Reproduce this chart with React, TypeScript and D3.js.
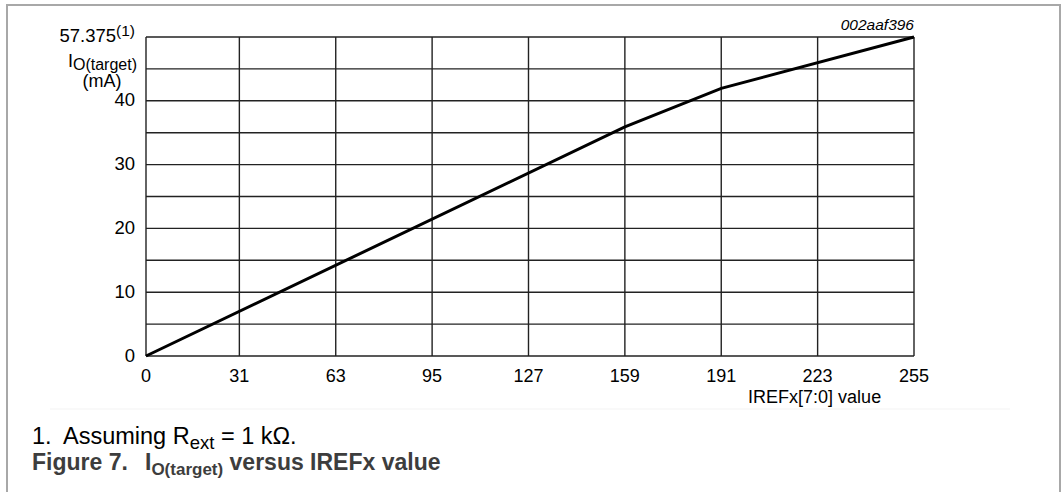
import * as d3 from "d3";

// IREFx register value (x) and target output current in mA (y)
const irefValues = [0, 159, 191, 255];
const currentMa = [0, 35.9, 43.4, 57.375];

const xTicks = [0, 31, 63, 95, 127, 159, 191, 223, 255];
const yTicks = [0, 10, 20, 30, 40, 57.375];

const FONT = "'Liberation Sans', Arial, Helvetica, sans-serif";

export default function App() {
  const width = 1061;
  const height = 492;
  const margin = { top: 37, right: 147, bottom: 136, left: 146 };
  const innerW = width - margin.left - margin.right;
  const innerH = height - margin.top - margin.bottom;

  const x = d3.scaleLinear().domain([0, 255]).range([0, innerW]);
  // the datasheet axis is broken above 40 mA: 57.375 sits two grid rows above 40
  const y = d3
    .scaleLinear()
    .domain([0, 40, 57.375])
    .range([innerH, innerH * 0.2, 0]);

  // minor grid rows half way between labelled ones
  const minorRows = d3.pairs(yTicks).map(([a, b]) => (y(a) + y(b)) / 2);
  const rows = [...yTicks.map((t) => y(t)), ...minorRows];

  const line = d3
    .line<number>()
    .x((d) => x(d))
    .y((_, i) => y(currentMa[i]));

  return (
    <svg
      width={width}
      height={height}
      style={{ position: "absolute", left: 0, top: 0, background: "#fff" }}
      fontFamily={FONT}
    >
      {/* frame */}
      <path d="M7,492V5H1060V492" fill="none" stroke="#a8a8a8" strokeWidth={2} />
      <line x1={50} x2={1010} y1={409} y2={409} stroke="#f3f3f3" strokeWidth={1} />

      <g transform={`translate(${margin.left},${margin.top})`}>
        {rows.map((r, i) => (
          <line key={"h" + i} x1={0} x2={innerW} y1={r} y2={r} stroke="#222" strokeWidth={1.4} />
        ))}
        {xTicks.map((t) => (
          <line key={"v" + t} x1={x(t)} x2={x(t)} y1={0} y2={innerH} stroke="#222" strokeWidth={1.4} />
        ))}

        <path d={line(irefValues) ?? ""} fill="none" stroke="#000" strokeWidth={3} />

        {/* y tick labels */}
        {yTicks.slice(0, -1).map((t) => (
          <text key={"yl" + t} x={-11} y={y(t)} dy="0.3em" textAnchor="end" fontSize={18.5} fill="#000">
            {t}
          </text>
        ))}
        <text x={-11} y={y(57.375)} dy="0.25em" textAnchor="end" fontSize={18.5} fill="#000">
          57.375
          <tspan fontSize={15.5} dy={-6}>(1)</tspan>
        </text>

        {/* y title */}
        <text x={-9} y={30} textAnchor="end" fontSize={18} fill="#000">
          I<tspan fontSize={16} dy={3}>O(target)</tspan>
        </text>
        <text x={-44} y={50} textAnchor="middle" fontSize={18} fill="#000">
          (mA)
        </text>

        {/* x tick labels */}
        {xTicks.map((t) => (
          <text key={"xl" + t} x={x(t)} y={innerH + 26} textAnchor="middle" fontSize={18} fill="#000">
            {t}
          </text>
        ))}
        <text x={x(223) - 3} y={innerH + 47} textAnchor="middle" fontSize={18} fill="#000">
          IREFx[7:0] value
        </text>

        <text x={innerW} y={-7} textAnchor="end" fontSize={15.5} fontStyle="italic" fill="#000">
          002aaf396
        </text>
      </g>

      {/* footnote */}
      <text y={444} fontSize={23.5} fill="#000">
        <tspan x={32}>1.</tspan>
        <tspan x={63}>Assuming R</tspan>
        <tspan fontSize={18.5} dy={5}>ext</tspan>
        <tspan dy={-5}> = 1 kΩ.</tspan>
      </text>

      {/* caption */}
      <text y={470} fontSize={23} fontWeight="bold" fill="#3d3d3d">
        <tspan x={32}>Figure 7.</tspan>
        <tspan x={145}>I</tspan>
        <tspan fontSize={17} dy={5}>O(target)</tspan>
        <tspan dy={-5}> versus IREFx value</tspan>
      </text>
    </svg>
  );
}
